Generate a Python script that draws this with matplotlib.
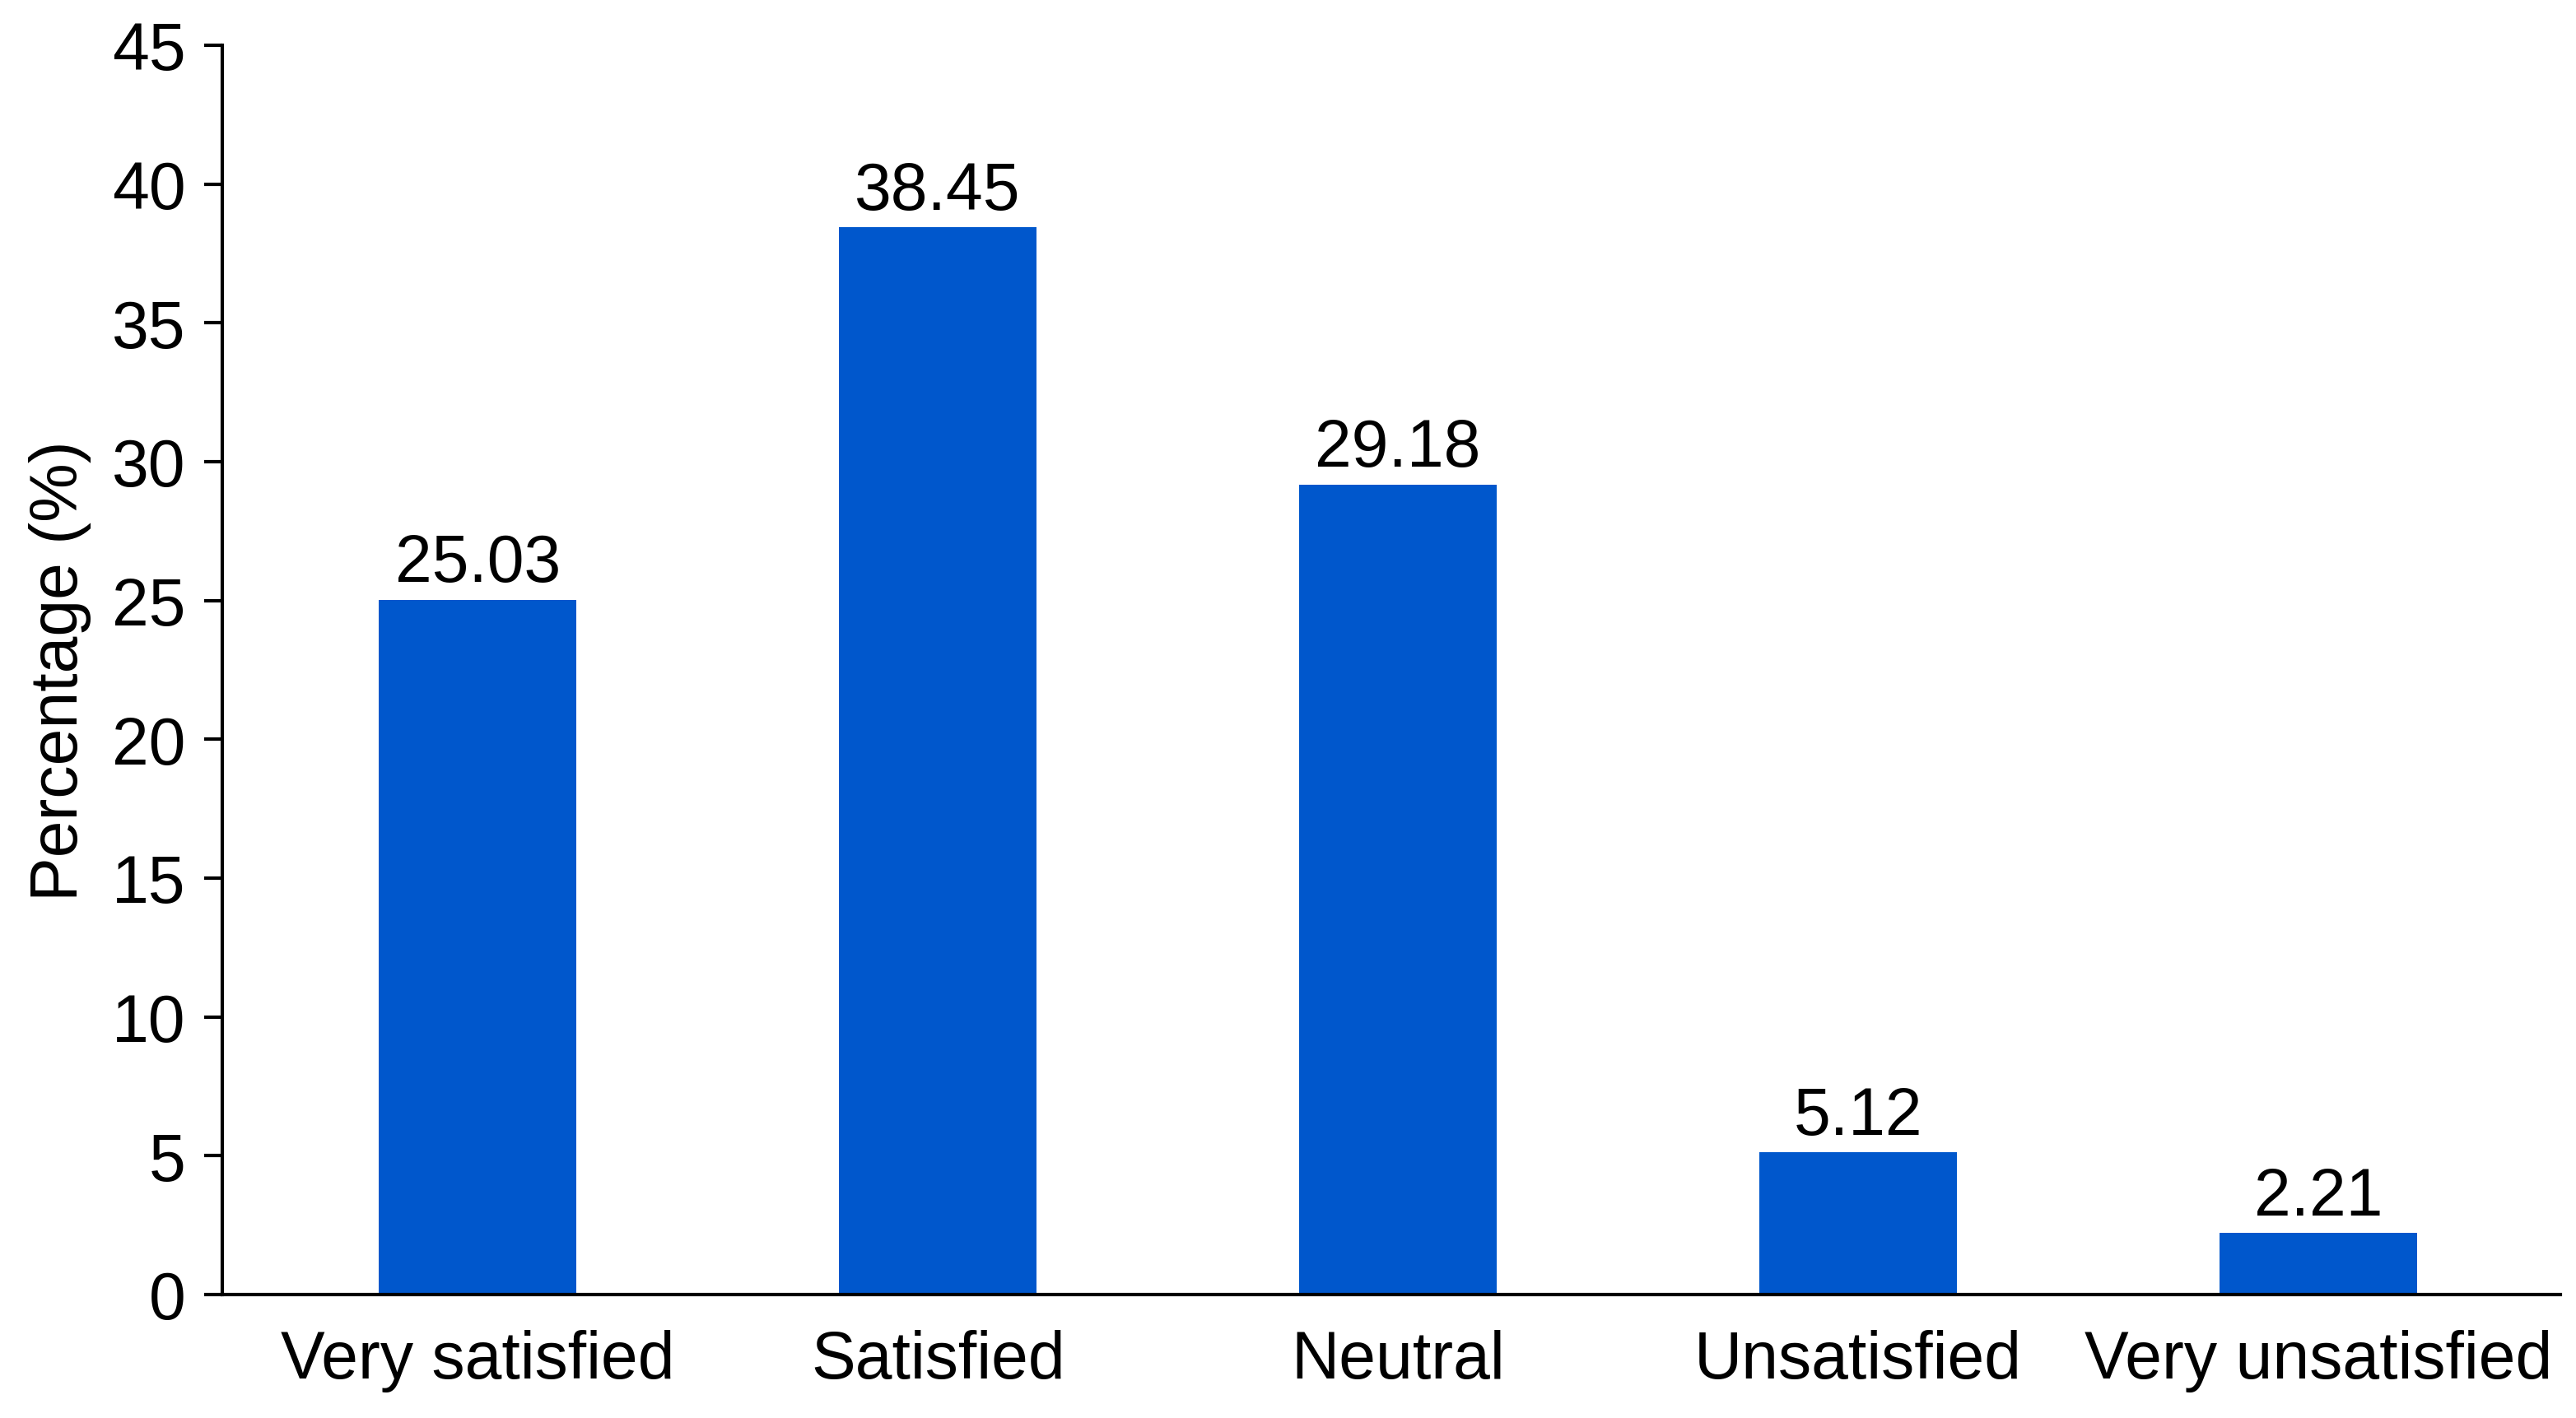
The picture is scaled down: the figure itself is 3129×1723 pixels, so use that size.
import matplotlib
matplotlib.use("Agg")
import matplotlib.pyplot as plt

categories = ["Very satisfied", "Satisfied", "Neutral", "Unsatisfied", "Very unsatisfied"]
values = [25.03, 38.45, 29.18, 5.12, 2.21]
value_labels = ["25.03", "38.45", "29.18", "5.12", "2.21"]
yticks = [0, 5, 10, 15, 20, 25, 30, 35, 40, 45]

plt.rcParams['font.family'] = ['Liberation Sans', 'DejaVu Sans']

fig = plt.figure(figsize=(3129/200, 1724/200), dpi=200)
ax = fig.add_axes([270/3129, 1 - 1574/1724, (3110-270)/3129, (1574-56)/1724])

x = list(range(len(categories)))
bars = ax.bar(x, values, width=0.43, color="#0057CC")

for xi, v, lab in zip(x, values, value_labels):
    ax.annotate(lab, (xi, v), xytext=(0, 8), textcoords="offset points",
                ha="center", va="baseline", fontsize=29)

ax.set_xlim(-0.555, 4.526)
ax.set_ylim(0, 45)
ax.set_yticks(yticks)
ax.set_yticklabels([str(t) for t in yticks])
ax.set_xticks(x)
ax.set_xticklabels(categories)
ax.tick_params(axis='y', labelsize=29, length=8, width=1.5, pad=8)
ax.tick_params(axis='x', labelsize=29, length=0, pad=15)
ax.set_ylabel("Percentage (%)", fontsize=29, labelpad=9)

for s in ["top", "right"]:
    ax.spines[s].set_visible(False)
for s in ["left", "bottom"]:
    ax.spines[s].set_linewidth(1.5)

fig.savefig("out.png", dpi=200)
